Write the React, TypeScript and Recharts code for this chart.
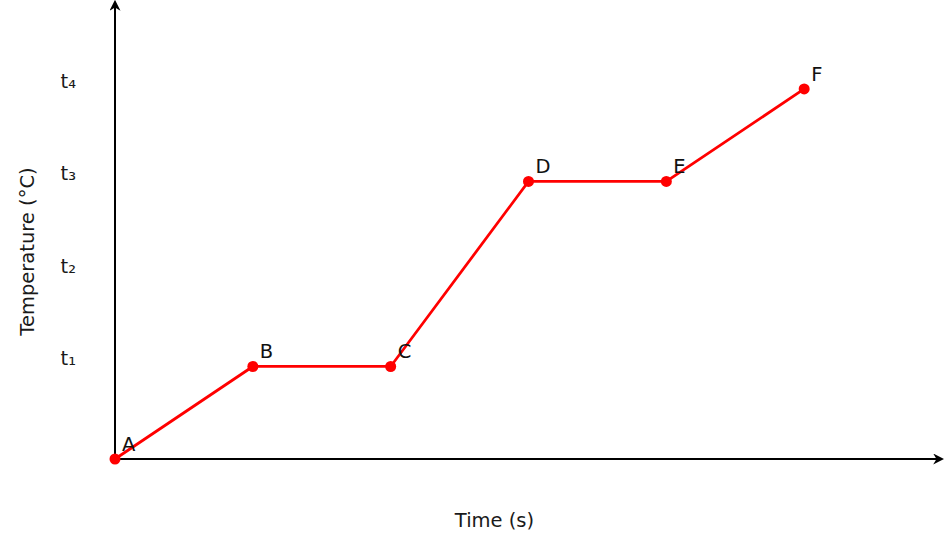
import { LineChart, Line, XAxis, YAxis, LabelList, Label } from "recharts";

const pointNames = ["A", "B", "C", "D", "E", "F"];
const times = [0, 1, 2, 3, 4, 5];
const temps = [0, 1, 1, 3, 3, 4];
const yTicks = [1, 2, 3, 4];
const yTickLabels = ["t₁", "t₂", "t₃", "t₄"];

const data = pointNames.map((name, i) => ({ name, time: times[i], temp: temps[i] }));

const font = "'DejaVu Sans', sans-serif";
const fs = 19.5;

function PointLabel(props: any) {
  const { x, y, value } = props;
  return (
    <text x={x + 7} y={y - 8} fontSize={fs} fontFamily={font} fill="#111" textAnchor="start">
      {value}
    </text>
  );
}

function YTick(props: any) {
  const { x, y, payload } = props;
  const idx = yTicks.indexOf(payload.value);
  return (
    <text x={x - 31} y={y - 1} fontSize={fs} fontFamily={font} fill="#1a1a1a" textAnchor="end">
      {yTickLabels[idx]}
    </text>
  );
}

function YTitle(props: any) {
  const { viewBox } = props;
  const cx = viewBox.x + 27;
  const cy = viewBox.y + viewBox.height / 2 + 21;
  return (
    <text
      x={cx}
      y={cy}
      transform={`rotate(-90, ${cx}, ${cy})`}
      textAnchor="middle"
      dominantBaseline="central"
      fontSize={fs}
      fontFamily={font}
      fill="#1a1a1a"
    >
      Temperature (°C)
    </text>
  );
}

function XTitle(props: any) {
  const { viewBox } = props;
  const cx = viewBox.x + viewBox.width / 2 - 34;
  return (
    <text x={cx} y={viewBox.y + 68} textAnchor="middle" fontSize={fs} fontFamily={font} fill="#1a1a1a">
      Time (s)
    </text>
  );
}

export default function App() {
  return (
    <div style={{ width: 950, height: 534, background: "#fff" }}>
      <style>{"body{margin:0}"}</style>
      <svg width={0} height={0} style={{ position: "absolute" }}>
        <defs>
          <marker
            id="axisArrow"
            viewBox="0 0 10 10"
            refX={8}
            refY={5}
            markerWidth={5.5}
            markerHeight={5.5}
            orient="auto-start-reverse"
            markerUnits="strokeWidth"
          >
            <path d="M0,0 L10,5 L0,10 L3,5 Z" fill="#000" />
          </marker>
        </defs>
      </svg>
      <LineChart width={950} height={534} data={data} margin={{ top: 2, right: 8, bottom: 0, left: 0 }}>
        <XAxis
          type="number"
          dataKey="time"
          domain={[0, 6]}
          tick={false}
          tickLine={false}
          height={75}
          axisLine={{ stroke: "#000", strokeWidth: 2, markerEnd: "url(#axisArrow)" }}
        >
          <Label content={<XTitle />} />
        </XAxis>
        <YAxis
          type="number"
          domain={[0, 4.94]}
          ticks={yTicks}
          tick={<YTick />}
          tickLine={false}
          width={115}
          axisLine={{ stroke: "#000", strokeWidth: 2, markerStart: "url(#axisArrow)" }}
        >
          <Label content={<YTitle />} />
        </YAxis>
        <Line
          type="linear"
          dataKey="temp"
          stroke="#ff0000"
          strokeWidth={2.75}
          dot={{ r: 5.5, fill: "#ff0000", stroke: "#ff0000", strokeWidth: 0 }}
          activeDot={false}
          isAnimationActive={false}
        >
          <LabelList dataKey="name" content={<PointLabel />} />
        </Line>
      </LineChart>
    </div>
  );
}
